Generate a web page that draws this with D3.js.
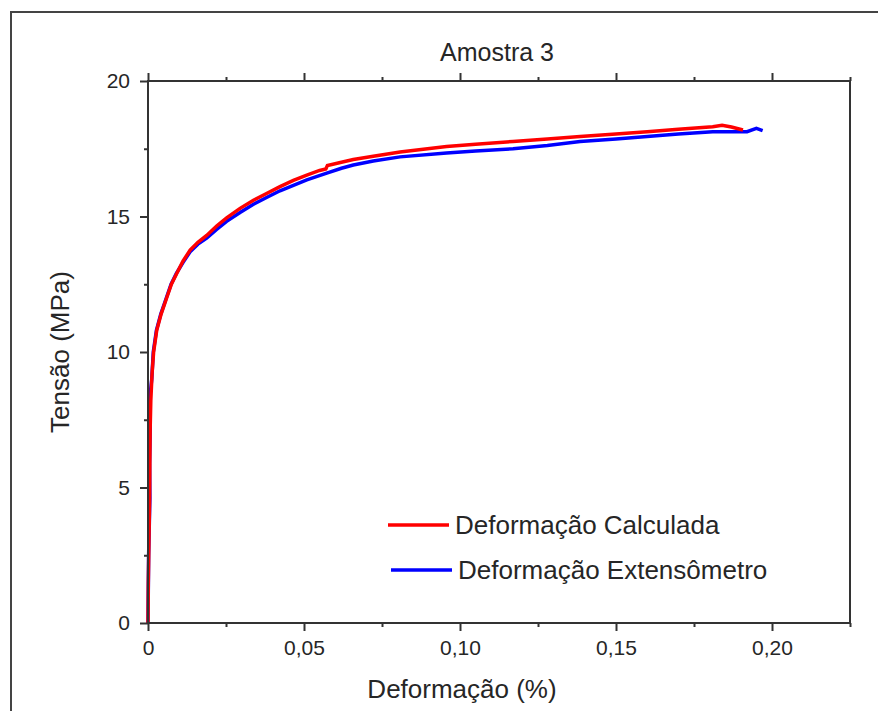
<!DOCTYPE html>
<meta charset="utf-8">
<head>
<title>Amostra 3</title>
<script src="https://cdn.jsdelivr.net/npm/d3@7/dist/d3.min.js"></script>
<style>
body { margin:0; background:#fff; }
text { font-family: "Liberation Sans", Arial, sans-serif; fill:#262626; }
.axis path, .axis line { stroke:#333; }
</style>
</head>
<body>
<svg id=mySVG width=878 height=711></svg>
<script>
// ---- data (strain %, stress MPa) ----
var strainCalc=[0,0.0001,0.0003,0.0005,0.0006,0.0007,0.0009,0.0013,0.0018,0.0028,0.0042,0.006,0.0075,0.0092,0.0112,0.0135,0.016,0.0188,0.022,0.0252,0.0295,0.0338,0.038,0.0423,0.0466,0.0509,0.055,0.057,0.0575,0.062,0.0658,0.0722,0.0808,0.0957,0.105,0.117,0.128,0.1385,0.15,0.16,0.17,0.181,0.184,0.187,0.1907]
var stressCalc=[0,1.5,3,4.5,6,7.2,8.2,9.2,10,10.8,11.4,12.0,12.5,12.9,13.35,13.76,14.05,14.3,14.65,14.95,15.3,15.6,15.85,16.1,16.33,16.53,16.7,16.75,16.88,17.0,17.1,17.22,17.38,17.58,17.67,17.77,17.86,17.95,18.04,18.13,18.22,18.31,18.37,18.3,18.19]
var strainExt=[0,0.0002,0.0006,0.0005,0.0007,0.0003,0.0012,0.0017,0.0027,0.0041,0.0059,0.0074,0.0091,0.0112,0.0135,0.016,0.0188,0.022,0.0252,0.0295,0.0338,0.038,0.0423,0.0466,0.0509,0.0573,0.062,0.0658,0.0722,0.0808,0.0957,0.105,0.117,0.128,0.1385,0.15,0.16,0.17,0.181,0.192,0.195,0.197]
var stressExt=[0,2.5,4.6,5.9,7.2,8.0,9.0,10,10.8,11.4,12.0,12.5,12.9,13.3,13.7,13.98,14.2,14.52,14.82,15.15,15.45,15.7,15.95,16.15,16.35,16.6,16.78,16.9,17.05,17.2,17.34,17.42,17.5,17.62,17.77,17.86,17.95,18.04,18.13,18.13,18.25,18.17]
var xMajor=[0,0.05,0.10,0.15,0.20]
var xMinor=[0.025,0.075,0.125,0.175,0.225]
var yMajor=[0,5,10,15,20]
var yMinor=[2.5,7.5,12.5,17.5]
var seriesNames=["Deformação Calculada","Deformação Extensômetro"]
var seriesColors=["#ff0000","#0000ff"]

var svg=d3.select("#mySVG")

//---outer frame---
svg.append("rect")
 .attr("x",11).attr("y",12)
 .attr("width",920).attr("height",760)
 .attr("fill","none").attr("stroke","#444").attr("stroke-width",2)

var x=d3.scaleLinear().domain([0,0.225]).range([148,850])
var y=d3.scaleLinear().domain([0,20]).range([623,81])

function fmtX(d){ return d==0?"0":d3.format(".2f")(d).replace(".",",") }

//---curves (blue under red)---
var line=d3.line().x(function(d){return x(d[0])}).y(function(d){return y(d[1])})
var extPts=strainExt.map(function(s,i){return [s,stressExt[i]]})
var calcPts=strainCalc.map(function(s,i){return [s,stressCalc[i]]})

svg.append("path").datum(extPts)
 .attr("d",line).attr("fill","none")
 .attr("stroke",seriesColors[1]).attr("stroke-width",3.5)
svg.append("path").datum(calcPts)
 .attr("d",line).attr("fill","none")
 .attr("stroke",seriesColors[0]).attr("stroke-width",3.5)

//---axes---
function styleAxis(g){
  g.attr("class","axis")
  g.select(".domain").remove()
  g.selectAll("line").attr("stroke","#333").attr("stroke-width",2)
  g.selectAll("text").attr("fill","#262626").style("font-size","21px")
}

svg.append("g").attr("transform","translate(0,623)")
 .call(d3.axisBottom(x).tickValues(xMajor).tickSize(8).tickPadding(9).tickFormat(fmtX))
 .call(styleAxis)
svg.append("g").attr("transform","translate(0,623)")
 .call(d3.axisBottom(x).tickValues(xMinor).tickSize(4).tickFormat(""))
 .call(styleAxis)
svg.append("g").attr("transform","translate(0,81)")
 .call(d3.axisTop(x).tickValues(xMajor).tickSize(8).tickFormat(""))
 .call(styleAxis)
svg.append("g").attr("transform","translate(0,81)")
 .call(d3.axisTop(x).tickValues(xMinor).tickSize(4).tickFormat(""))
 .call(styleAxis)
svg.append("g").attr("transform","translate(148,0)")
 .call(d3.axisLeft(y).tickValues(yMajor).tickSize(8).tickPadding(10))
 .call(styleAxis)
svg.append("g").attr("transform","translate(148,0)")
 .call(d3.axisLeft(y).tickValues(yMinor).tickSize(4).tickFormat(""))
 .call(styleAxis)

//---axis lines (box)---
svg.append("rect")
 .attr("x",x(0)).attr("y",y(20))
 .attr("width",x(0.225)-x(0)).attr("height",y(0)-y(20))
 .attr("fill","none").attr("stroke","#333").attr("stroke-width",2)

//---titles---
svg.append("text").text("Amostra 3")
 .attr("x",497).attr("y",61)
 .attr("text-anchor","middle").style("font-size","25px")

svg.append("text").text("Deformação (%)")
 .attr("x",462).attr("y",698)
 .attr("text-anchor","middle").style("font-size","26px")

svg.append("text").text("Tensão (MPa)")
 .attr("transform","translate(69,352) rotate(-90)")
 .attr("text-anchor","middle").style("font-size","26px")

//---legend---
var legY=[525,570]
var legX=[388,391]
seriesNames.forEach(function(n,i){
  svg.append("line")
   .attr("x1",legX[i]).attr("x2",legX[i]+61)
   .attr("y1",legY[i]).attr("y2",legY[i])
   .attr("stroke",seriesColors[i]).attr("stroke-width",3.5)
  svg.append("text").text(n)
   .attr("x",legX[i]+67).attr("y",legY[i]+9)
   .style("font-size","26px")
})
</script>
</body>
